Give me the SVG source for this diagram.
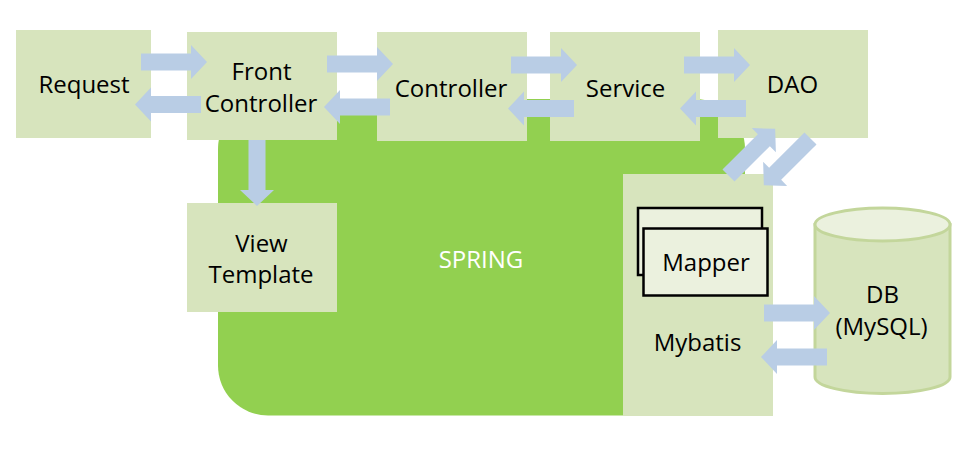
<svg xmlns="http://www.w3.org/2000/svg" width="972" height="461" viewBox="0 0 972 461">
<style>
.box{fill:#d7e4bd}
.t{font-family:"Open Sans","Noto Sans","Liberation Sans",sans-serif;font-size:24px;fill:#000;text-anchor:middle}
.w{fill:#fff}
.arr{fill:#b9cde5}
.map{fill:#ebf1de;stroke:#000;stroke-width:2.5}
</style>
<defs>
<path id="ar" d="M0,-8.5 L50,-8.5 L50,-17 L66,0 L50,17 L50,8.5 L0,8.5 Z"/>
</defs>
<rect width="972" height="461" fill="#fff"/>
<g id="spring">
<rect x="218" y="99" width="527" height="316.5" rx="50" ry="50" fill="#92d050"/>
<text class="t w" x="481" y="268">SPRING</text>
</g>
<g id="request"><rect class="box" x="16" y="30" width="135" height="108"/><text class="t" x="84" y="93">Request</text></g>
<g id="front-controller"><rect class="box" x="187" y="32" width="150" height="108"/><text class="t" x="261.5" y="80">Front</text><text class="t" x="261" y="112">Controller</text></g>
<g id="controller"><rect class="box" x="377" y="32" width="150" height="109"/><text class="t" x="451" y="97">Controller</text></g>
<g id="service"><rect class="box" x="550" y="32" width="150" height="109"/><text class="t" x="625.5" y="97">Service</text></g>
<g id="dao"><rect class="box" x="718" y="30" width="150" height="108"/><text class="t" x="792.5" y="93">DAO</text></g>
<g id="view-template"><rect class="box" x="187" y="203" width="150" height="109"/><text class="t" x="261.5" y="252">View</text><text class="t" x="261" y="283">Template</text></g>
<g id="mybatis"><rect class="box" x="623" y="174" width="150" height="242"/>
<rect class="map" x="638" y="208" width="124" height="67"/>
<rect class="map" x="643.5" y="228.5" width="124" height="67"/>
<text class="t" x="706" y="271">Mapper</text>
<text class="t" x="697.5" y="351">Mybatis</text></g>
<g id="db">
<path d="M815,224.5 L815,377 A67.5,16.5 0 0 0 950,377 L950,224.5 Z" fill="#d7e4bd" stroke="#c3d69b" stroke-width="3"/>
<ellipse cx="882.5" cy="224.5" rx="67.5" ry="16.5" fill="#ebf1de" stroke="#c3d69b" stroke-width="3"/>
<text class="t" x="882.5" y="303">DB</text><text class="t" x="881.5" y="335">(MySQL)</text>
</g>
<g id="connectors" class="arr">
<use href="#ar" transform="translate(141,62)"/>
<use href="#ar" transform="translate(201,104.5) rotate(180)"/>
<use href="#ar" transform="translate(327,64)"/>
<use href="#ar" transform="translate(390,107) rotate(180)"/>
<use href="#ar" transform="translate(511,65)"/>
<use href="#ar" transform="translate(574,108.5) rotate(180)"/>
<use href="#ar" transform="translate(684,65)"/>
<use href="#ar" transform="translate(746,108.5) rotate(180)"/>
<use href="#ar" transform="translate(257,140) rotate(90)"/>
<use href="#ar" transform="translate(728.5,175.5) rotate(-45)"/>
<use href="#ar" transform="translate(810.5,138.5) rotate(135)"/>
<use href="#ar" transform="translate(764,313)"/>
<use href="#ar" transform="translate(827,357) rotate(180)"/>
</g>
</svg>
